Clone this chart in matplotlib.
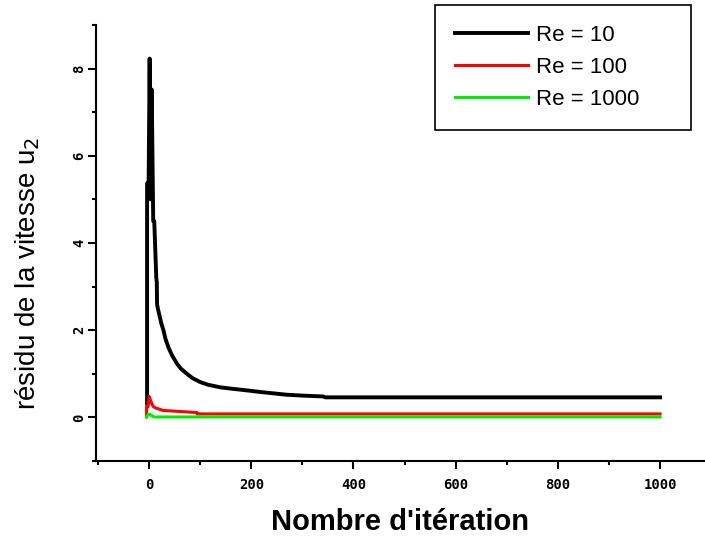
import matplotlib.pyplot as plt
from matplotlib.ticker import MultipleLocator

# residual of u2 vs iteration
iter_re10 = [-4, -4, -1, 1, 3, 5, 8, 10, 14, 15, 15.5, 17, 21, 24, 28, 32, 38, 45, 54, 62,
             74, 85, 100, 115, 139, 160, 191, 220, 269, 300, 341, 345, 452, 1000]
res_re10 = [0.32, 5.37, 5.37, 8.23, 5.0, 7.52, 4.5, 4.5, 3.2, 3.1, 2.6, 2.5, 2.3, 2.15, 2.0,
            1.8, 1.6, 1.42, 1.24, 1.12, 1.0, 0.9, 0.81, 0.75, 0.69, 0.66, 0.62, 0.58, 0.52,
            0.5, 0.48, 0.46, 0.46, 0.46]

iter_re100 = [-5, -5, -2, 0, 4, 8, 12, 27, 94, 94, 1000]
res_re100 = [0.05, 0.25, 0.25, 0.48, 0.35, 0.25, 0.22, 0.16, 0.11, 0.08, 0.08]

iter_re1000 = [-5, -2, 2, 6, 10, 1000]
res_re1000 = [0.0, 0.07, 0.07, 0.03, 0.01, 0.01]

labels = ["Re = 10", "Re = 100", "Re = 1000"]
colors = ["black", "#ff0000", "#00ee00"]

fig = plt.figure(figsize=(7.05, 5.42), dpi=100)
ax = fig.add_axes([96 / 705, 1 - 461 / 542, 1 - 96 / 705, 436 / 542])

ax.plot(iter_re10, res_re10, color=colors[0], lw=2.8, label=labels[0])
ax.plot(iter_re100, res_re100, color=colors[1], lw=2.2, label=labels[1])
ax.plot(iter_re1000, res_re1000, color=colors[2], lw=2.2, label=labels[2])

ax.set_xlim(-104, 1088)
ax.set_ylim(-1, 9)

for side in ["top", "right"]:
    ax.spines[side].set_visible(False)
for side in ["left", "bottom"]:
    ax.spines[side].set_linewidth(1.5)

ax.xaxis.set_major_locator(MultipleLocator(200))
ax.xaxis.set_minor_locator(MultipleLocator(100))
ax.yaxis.set_major_locator(MultipleLocator(2))
ax.yaxis.set_minor_locator(MultipleLocator(1))
ax.tick_params(which="major", direction="out", length=6, width=1.5, labelsize=10)
ax.tick_params(axis="x", which="major", pad=6)
ax.tick_params(axis="y", which="major", pad=1)
ax.tick_params(which="minor", direction="out", length=3, width=1.5)
for t in ax.get_xticklabels() + ax.get_yticklabels():
    t.set_family("DejaVu Sans Mono")
    t.set_weight("bold")
for t in ax.get_yticklabels():
    t.set_rotation(90)
    t.set_va("center")

ax.set_ylabel("résidu de la vitesse u$_2$", fontsize=20, family="Liberation Sans", va="center")
ax.yaxis.set_label_coords(-0.113, 0.43)
ax.set_xlabel("Nombre d'itération", fontsize=21, family="Liberation Sans", weight="bold",
              va="center")
ax.xaxis.set_label_coords(0.499, -0.14)

leg = ax.legend(loc="upper left",
                bbox_to_anchor=(435 / 705, 1 - 5 / 542 - 0.01, 256 / 705, 0.01),
                bbox_transform=fig.transFigure, mode="expand", borderaxespad=0,
                prop={"family": "Liberation Sans", "size": 16}, handlelength=3.3,
                handletextpad=0.36, labelspacing=0.5, borderpad=0.9,
                fancybox=False, framealpha=1, edgecolor="black")
leg.get_frame().set_linewidth(1.2)

fig.savefig("out.png", dpi=100)
